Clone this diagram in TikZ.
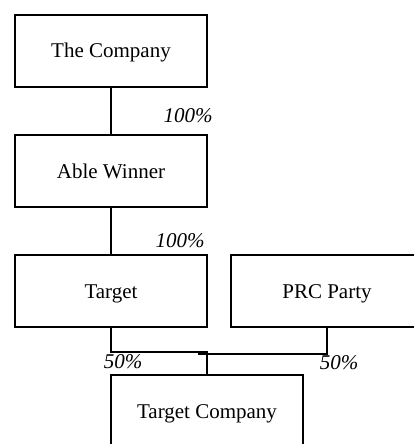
\documentclass[tikz,border=0pt]{standalone}
\usepackage{fontspec}
\setmainfont{Liberation Serif}
\usepackage{tikz}
\newcommand{\drawthick}{\draw[line width=2pt]}
\newcommand{\sharelabel}[4]{\node[share] (#1) at (#3,#4) {#2};}
\tikzset{
  entity/.style={draw, line width=2pt, minimum width=192pt, minimum height=72pt, inner sep=0pt, text height=14pt, text depth=0pt, font=\fontsize{21}{25}\selectfont},
  share/.style={inner sep=0pt, font=\fontsize{21}{25}\selectfont\itshape}
}

\begin{document}
\begin{tikzpicture}[x=1pt,y=-1pt]
\useasboundingbox (0,0) rectangle (413,444);
\node[entity] (company) at (111,51) {The Company};
    \node[entity] (able) at (111,171) {Able Winner};
    \node[entity] (target) at (111,291) {Target};
    \node[entity] (prc) at (327,291) {PRC Party};
    \node[entity] (tc) at (207,411) {Target Company};
    \coordinate (prcend) at (198,354);
\drawthick (company.south)--(able.north);
    \drawthick (able.south)--(target.north);
    \drawthick (target.south)--++(0,24)-|(tc.north);
    \drawthick (prc.south)|-(prcend);
\sharelabel{s1}{100\%}{188}{116}\sharelabel{s2}{100\%}{180}{241}\sharelabel{s3}{50\%}{123}{362}\sharelabel{s4}{50\%}{339}{363}\end{tikzpicture}
\end{document}
